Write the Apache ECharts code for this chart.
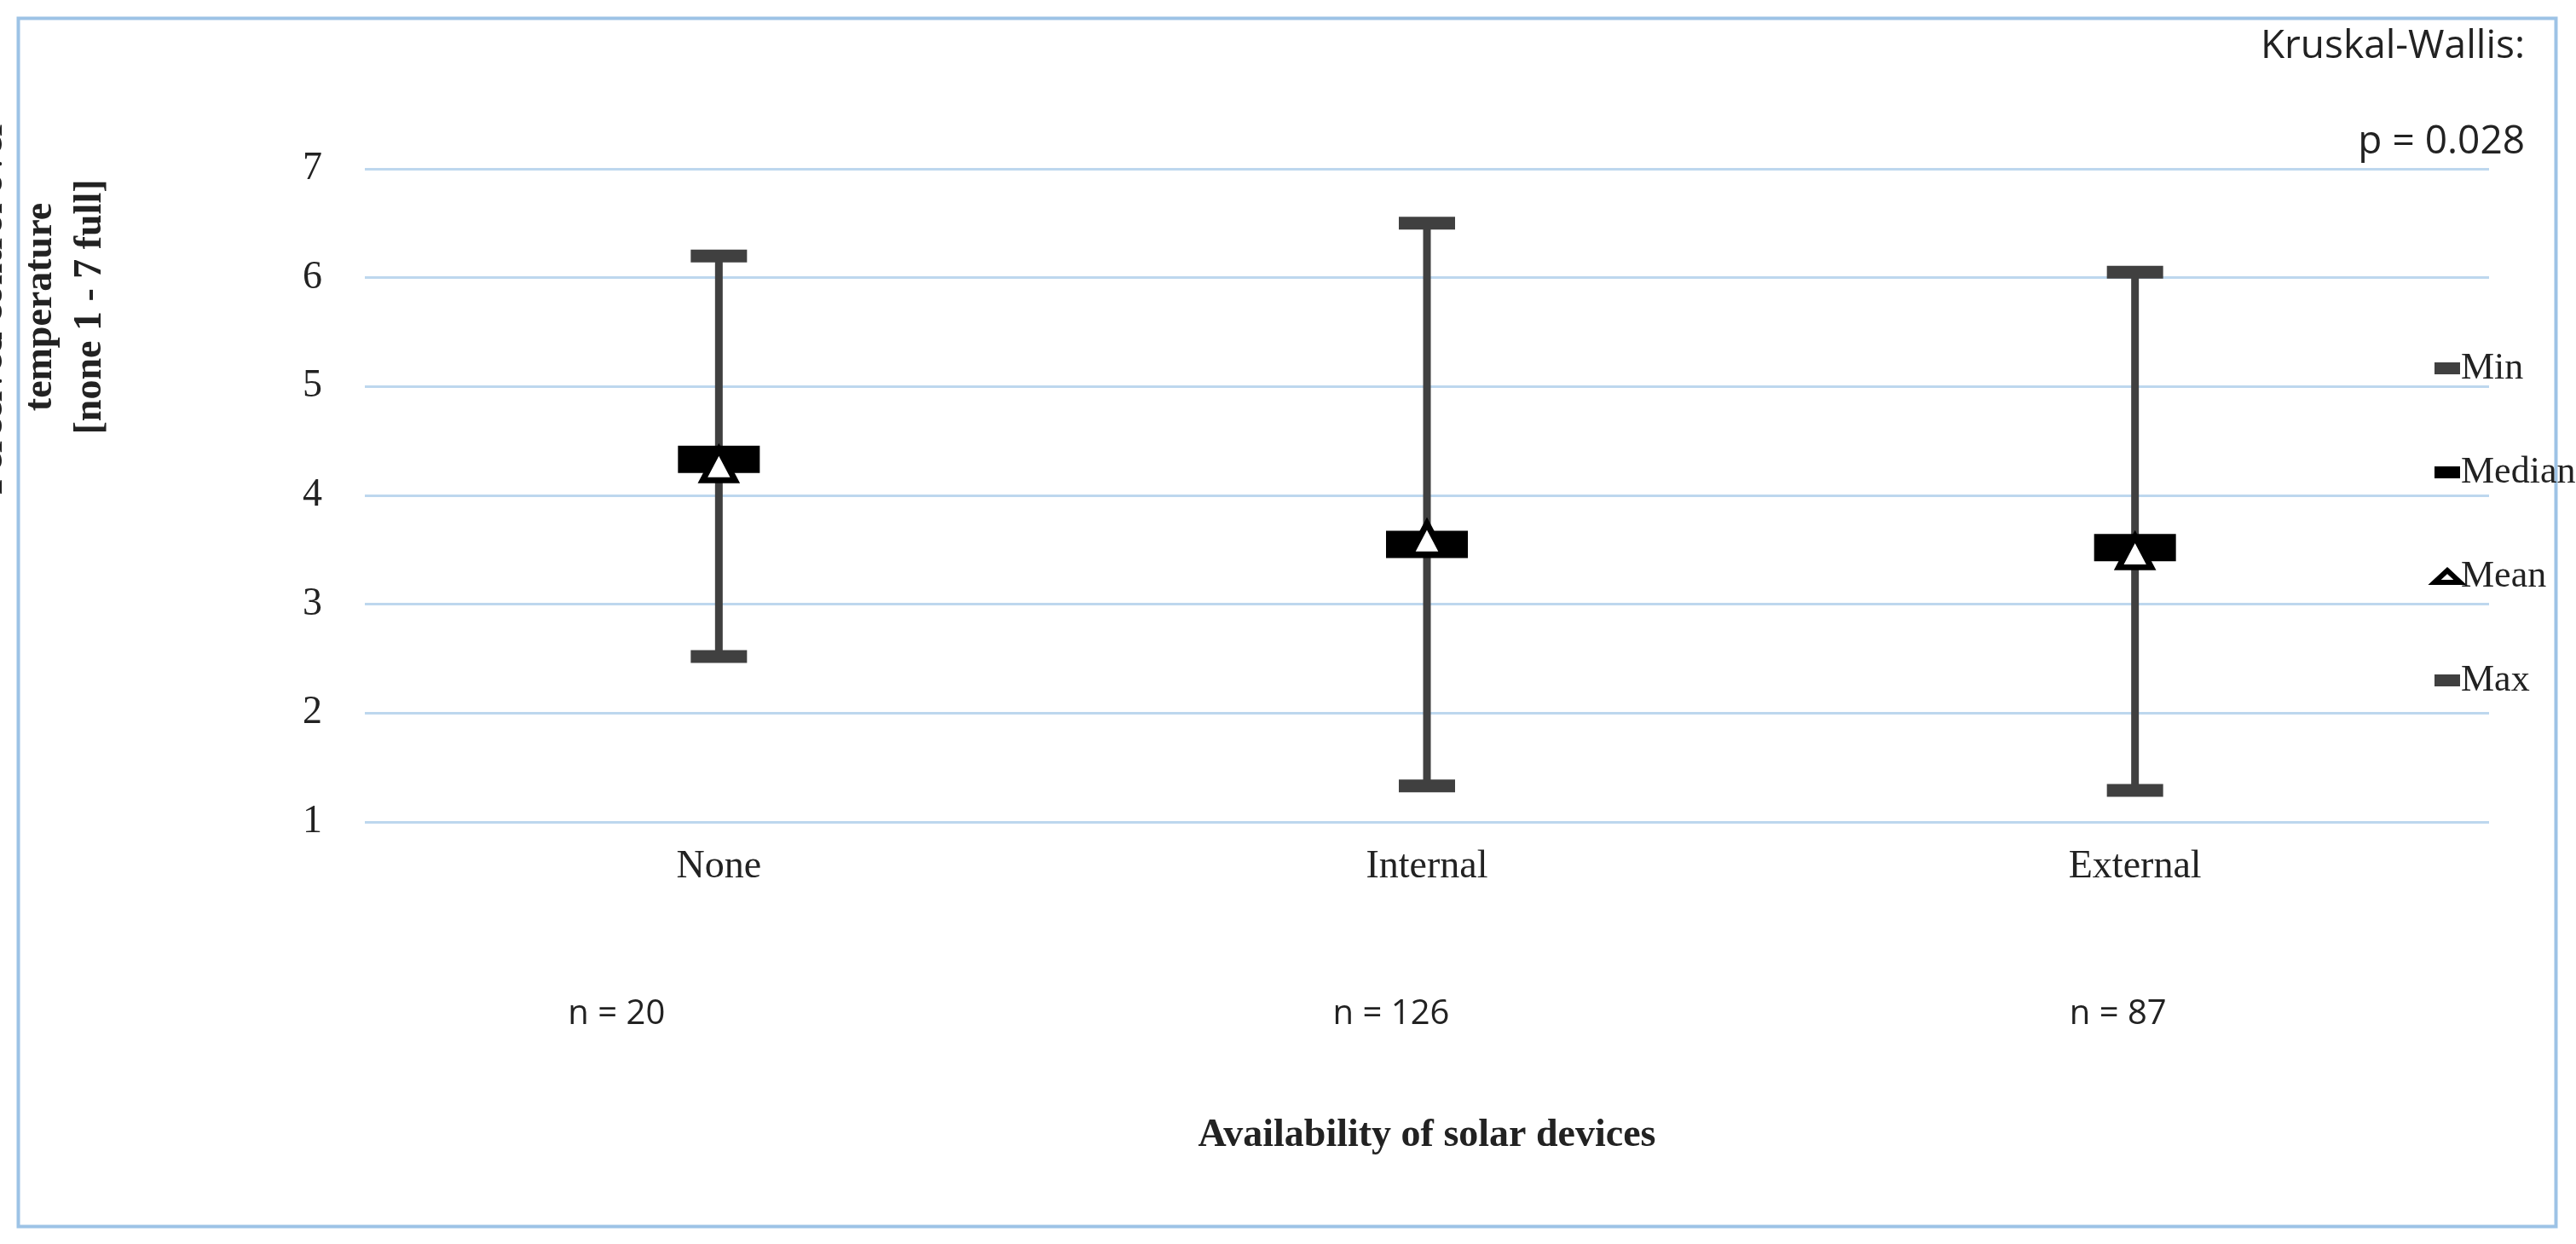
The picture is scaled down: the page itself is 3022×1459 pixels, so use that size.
<!DOCTYPE html>
<html><head><meta charset="utf-8">
<script src="https://cdn.jsdelivr.net/npm/echarts@6/dist/echarts.min.js"></script>
<style>html,body{margin:0;padding:0;background:#fff}#c{width:3022px;height:1459px}</style>
</head><body><div id="c"></div>
<script>
const categories = ['None','Internal','External'];
const nLabels = ['n = 20','n = 126','n = 87'];
const minVals = [2.52, 1.33, 1.29];
const maxVals = [6.2, 6.5, 6.05];
const medianVals = [4.33, 3.55, 3.52];
const meanVals = [4.28, 3.6, 3.48];
const yTicks = [1,2,3,4,5,6,7];

const serif = '"Liberation Serif","DejaVu Serif",serif';
const sans = '"Open Sans","Noto Sans",sans-serif';
const chart = echarts.init(document.getElementById('c'));
const gl=428, gr=102, W=3022;
const band=(W-gl-gr)/categories.length;
const offs=[-120,-42,-20];
const nGraphics = nLabels.map((t,i)=>({type:'text', x:gl+band*(i+0.5)+offs[i], y:1190,
  style:{text:t, font:'40px '+sans, fill:'#222', align:'center', verticalAlign:'middle'}}));
chart.setOption({
  animation:false,
  backgroundColor:'#fff',
  grid:{left:gl, right:gr, top:198, bottom:495},
  xAxis:{type:'category', data:categories, axisLine:{show:false}, axisTick:{show:false},
    axisLabel:{fontFamily:serif, fontSize:46, color:'#222', margin:30},
    name:'Availability of solar devices', nameLocation:'middle', nameGap:345,
    nameTextStyle:{fontFamily:serif, fontSize:46, fontWeight:'bold', color:'#222'}},
  yAxis:{type:'value', min:1, max:7, interval:1, axisLine:{show:false}, axisTick:{show:false},
    axisLabel:{fontFamily:serif, fontSize:46, color:'#222', margin:50, formatter:v=>yTicks.includes(v)?String(v):''},
    splitLine:{lineStyle:{color:'#BDD7EE', width:3}}},
  legend:{orient:'vertical', left:2848, top:405, itemGap:78, itemWidth:30, itemHeight:14,
    textStyle:{fontFamily:serif, fontSize:44, color:'#222', padding:[0,0,0,-4]},
    data:['Min','Median',{name:'Mean', itemStyle:{color:'#fff', borderColor:'#000', borderWidth:6}},'Max']},
  series:[
    {type:'custom', name:'range', silent:true, z:1,
      data: categories.map((c,i)=>[i,minVals[i],maxVals[i]]),
      renderItem:(p,api)=>{
        const a=api.coord([api.value(0),api.value(1)]), b=api.coord([api.value(0),api.value(2)]);
        return {type:'line', shape:{x1:a[0],y1:a[1],x2:b[0],y2:b[1]}, style:{stroke:'#404040',lineWidth:9}};
      }},
    {type:'scatter', name:'Min', data:minVals, symbol:'rect', symbolSize:[66,15], itemStyle:{color:'#404040', opacity:1}, z:2},
    {type:'scatter', name:'Max', data:maxVals, symbol:'rect', symbolSize:[66,15], itemStyle:{color:'#404040', opacity:1}, z:2},
    {type:'scatter', name:'Median', data:medianVals, symbol:'rect', symbolSize:[96,32], itemStyle:{color:'#000', opacity:1}, z:3},
    {type:'scatter', name:'Mean', data:meanVals, symbol:'triangle', symbolSize:[38,36], itemStyle:{color:'#fff', borderColor:'#000', borderWidth:7, opacity:1}, z:4}
  ],
  graphic:[
    {type:'rect', left:19, top:19, shape:{width:2977, height:1417}, style:{fill:'none', stroke:'#9DC3E6', lineWidth:4}, silent:true},
    {type:'text', right:60, top:32, style:{text:'Kruskal-Wallis:', font:'46px '+sans, fill:'#222'}},
    {type:'text', right:60, top:144, style:{text:'p = 0.028', font:'46px '+sans, fill:'#222'}},
    {type:'text', rotation:Math.PI/2, x:48, y:360,
      style:{text:'Perceived control over\ntemperature\n[none 1 - 7 full]', font:'bold 46px '+serif, fill:'#222', align:'center', verticalAlign:'middle', lineHeight:58}}
  ].concat(nGraphics)
});
</script></body></html>
